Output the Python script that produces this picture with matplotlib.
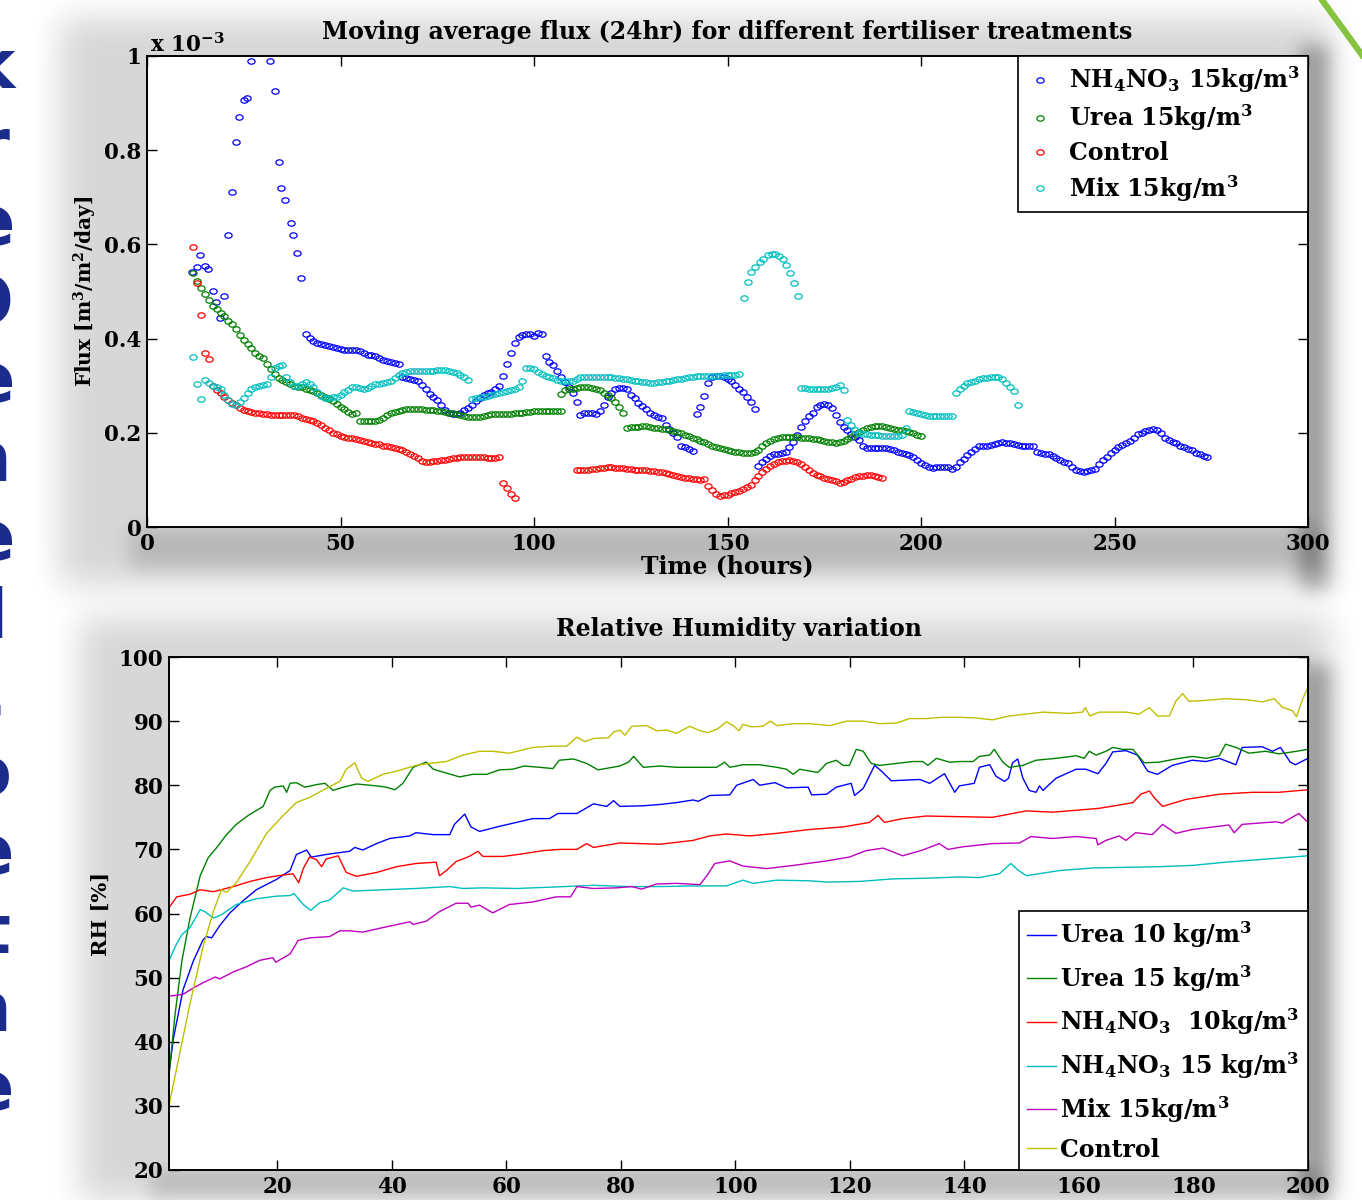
import numpy as np
import matplotlib
matplotlib.use('Agg')
import matplotlib.pyplot as plt
from matplotlib.path import Path
from matplotlib.transforms import Affine2D
from matplotlib.lines import Line2D

plt.rcParams['font.family'] = 'DejaVu Serif'
plt.rcParams['font.weight'] = 'bold'
plt.rcParams['mathtext.fontset'] = 'custom'
plt.rcParams['mathtext.rm'] = 'DejaVu Serif:bold'
plt.rcParams['mathtext.it'] = 'DejaVu Serif:bold'
plt.rcParams['mathtext.bf'] = 'DejaVu Serif:bold'
plt.rcParams['mathtext.default'] = 'rm'

# ---------------- flux data (x 1e-3 m3/m2/day) vs time (hours) ----------------
# NH4NO3 15kg/m3
nh4_pts_t = [11.5, 13.0, 13.8, 14.9, 15.8, 17.0, 17.9, 18.9, 19.9, 21.0, 21.9, 23.1, 23.8,
             25.1, 25.8, 26.9, 31.9, 33.0, 34.0, 34.7, 35.7, 37.2, 37.8, 38.8, 39.8]
nh4_pts_f = [0.542, 0.553, 0.578, 0.554, 0.548, 0.502, 0.478, 0.444, 0.491, 0.621, 0.712, 0.818, 0.871,
             0.906, 0.911, 0.990, 0.989, 0.926, 0.774, 0.720, 0.695, 0.645, 0.620, 0.582, 0.529]
nh4_seg_start = [41, 66, 103, 142, 158]
nh4_seg_f = [
    [0.410, 0.401, 0.395, 0.391, 0.389, 0.387, 0.385, 0.383, 0.380, 0.377, 0.376, 0.376, 0.376,
     0.376, 0.374, 0.369, 0.366, 0.365, 0.362, 0.358, 0.355, 0.352, 0.350, 0.348, 0.346],
    [0.318, 0.316, 0.315, 0.313, 0.309, 0.301, 0.293, 0.283, 0.275, 0.270, 0.260, 0.249, 0.242,
     0.240, 0.239, 0.242, 0.248, 0.252, 0.258, 0.267, 0.273, 0.280, 0.285, 0.287, 0.292, 0.300,
     0.320, 0.347, 0.370, 0.390, 0.403, 0.408, 0.409, 0.409, 0.405, 0.411, 0.410],
    [0.362, 0.351, 0.344, 0.332, 0.318, 0.308, 0.297, 0.284, 0.266, 0.238, 0.242, 0.243, 0.241,
     0.240, 0.247, 0.259, 0.275, 0.285, 0.292, 0.296, 0.296, 0.293, 0.281, 0.273, 0.264, 0.256,
     0.250, 0.242, 0.237, 0.234, 0.231, 0.217, 0.208, 0.199, 0.192, 0.173, 0.170, 0.166, 0.161],
    [0.240, 0.254, 0.278, 0.305, 0.318, 0.320, 0.320, 0.319, 0.315, 0.310, 0.302, 0.293, 0.287,
     0.277, 0.265, 0.250],
    [0.130, 0.138, 0.144, 0.150, 0.154, 0.156, 0.157, 0.160, 0.170, 0.181, 0.195, 0.212, 0.225,
     0.235, 0.243, 0.254, 0.259, 0.261, 0.259, 0.252, 0.238, 0.222, 0.213, 0.205, 0.197, 0.191,
     0.184, 0.172, 0.168, 0.167, 0.167, 0.167, 0.167, 0.167, 0.166, 0.164, 0.160, 0.158, 0.156,
     0.153, 0.149, 0.143, 0.136, 0.131, 0.128, 0.126, 0.127, 0.128, 0.128, 0.127, 0.123, 0.128,
     0.137, 0.145, 0.152, 0.160, 0.166, 0.171, 0.173, 0.173, 0.174, 0.176, 0.178, 0.180, 0.179,
     0.178, 0.176, 0.174, 0.173, 0.173, 0.173, 0.172, 0.160, 0.158, 0.156, 0.154, 0.151, 0.147,
     0.143, 0.139, 0.135, 0.128, 0.122, 0.119, 0.117, 0.118, 0.120, 0.123, 0.134, 0.143, 0.149,
     0.157, 0.163, 0.170, 0.175, 0.179, 0.182, 0.190, 0.197, 0.200, 0.203, 0.206, 0.208, 0.207,
     0.200, 0.190, 0.184, 0.181, 0.178, 0.173, 0.169, 0.166, 0.163, 0.158, 0.154, 0.150, 0.148],
]

# Urea 15kg/m3
urea_seg_start = [12, 55, 107, 124]
urea_seg_f = [
    [0.540, 0.522, 0.508, 0.495, 0.482, 0.469, 0.462, 0.455, 0.448, 0.438, 0.431, 0.420, 0.408,
     0.398, 0.388, 0.379, 0.370, 0.362, 0.358, 0.346, 0.336, 0.325, 0.316, 0.312, 0.307, 0.303,
     0.300, 0.298, 0.297, 0.294, 0.291, 0.289, 0.285, 0.281, 0.277, 0.272, 0.268, 0.262, 0.255,
     0.250, 0.245, 0.240, 0.243],
    [0.225, 0.224, 0.224, 0.224, 0.225, 0.227, 0.232, 0.237, 0.241, 0.244, 0.246, 0.248, 0.250,
     0.250, 0.250, 0.250, 0.250, 0.249, 0.249, 0.248, 0.247, 0.246, 0.245, 0.243, 0.241, 0.239,
     0.237, 0.235, 0.234, 0.233, 0.233, 0.234, 0.235, 0.237, 0.239, 0.240, 0.240, 0.239, 0.239,
     0.240, 0.241, 0.242, 0.243, 0.244, 0.245, 0.246, 0.246, 0.246, 0.246, 0.246, 0.246, 0.246,
     0.247],
    [0.283, 0.290, 0.292, 0.294, 0.296, 0.298, 0.298, 0.297, 0.296, 0.294, 0.291, 0.285, 0.280,
     0.273, 0.265, 0.255, 0.243],
    [0.211, 0.212, 0.212, 0.213, 0.214, 0.214, 0.213, 0.211, 0.210, 0.209, 0.208, 0.206, 0.204,
     0.201, 0.199, 0.196, 0.193, 0.190, 0.186, 0.183, 0.180, 0.176, 0.173, 0.170, 0.167, 0.165,
     0.163, 0.161, 0.160, 0.159, 0.158, 0.158, 0.158, 0.160, 0.164, 0.171, 0.178, 0.183, 0.187,
     0.190, 0.191, 0.192, 0.192, 0.192, 0.191, 0.190, 0.189, 0.188, 0.187, 0.186, 0.185, 0.183,
     0.181, 0.180, 0.179, 0.180, 0.182, 0.186, 0.191, 0.197, 0.202, 0.206, 0.210, 0.213, 0.215,
     0.215, 0.214, 0.212, 0.210, 0.208, 0.206, 0.205, 0.203, 0.201, 0.199, 0.196, 0.193],
]

# Control
ctrl_pts_t = [11.8, 13.0, 14.0, 15.0, 16.0]
ctrl_pts_f = [0.594, 0.517, 0.450, 0.370, 0.357]
ctrl_seg_start = [17, 92, 111, 145]
ctrl_seg_f = [
    [0.299, 0.291, 0.284, 0.276, 0.270, 0.264, 0.258, 0.253, 0.248, 0.246, 0.244, 0.242, 0.241,
     0.240, 0.239, 0.238, 0.238, 0.238, 0.238, 0.238, 0.238, 0.237, 0.235, 0.232, 0.230, 0.227,
     0.224, 0.220, 0.216, 0.211, 0.205, 0.200, 0.197, 0.194, 0.192, 0.190, 0.188, 0.186, 0.185,
     0.182, 0.180, 0.178, 0.177, 0.176, 0.173, 0.171, 0.169, 0.167, 0.166, 0.163, 0.159, 0.156,
     0.151, 0.146, 0.141, 0.139, 0.139, 0.140, 0.141, 0.142, 0.143, 0.144, 0.146, 0.147, 0.148,
     0.149, 0.149, 0.148, 0.148, 0.148, 0.148, 0.147, 0.147, 0.147, 0.149],
    [0.094, 0.082, 0.071, 0.062],
    [0.120, 0.121, 0.122, 0.122, 0.123, 0.124, 0.125, 0.126, 0.127, 0.127, 0.126, 0.125, 0.125,
     0.124, 0.123, 0.122, 0.121, 0.121, 0.120, 0.119, 0.118, 0.117, 0.116, 0.114, 0.112, 0.111,
     0.109, 0.107, 0.105, 0.103, 0.102, 0.101, 0.100, 0.101],
    [0.086, 0.078, 0.070, 0.066, 0.067, 0.069, 0.072, 0.074, 0.077, 0.080, 0.084, 0.089, 0.099,
     0.108, 0.116, 0.124, 0.130, 0.134, 0.138, 0.140, 0.141, 0.142, 0.141, 0.139, 0.134, 0.128,
     0.121, 0.115, 0.111, 0.108, 0.105, 0.102, 0.100, 0.097, 0.094, 0.096, 0.099, 0.102, 0.106,
     0.108, 0.109, 0.110, 0.110, 0.108, 0.107, 0.105],
]

# Mix 15kg/m3
mix_pts_t = [11.8, 13.0, 14.0, 154.3, 155.2, 156.2, 157.2, 158.3, 159.3, 160.5, 161.4, 162.3,
             163.3, 164.3, 165.1, 166.1, 167.2, 168.1]
mix_pts_f = [0.360, 0.304, 0.271, 0.487, 0.521, 0.542, 0.553, 0.563, 0.570, 0.577, 0.580, 0.579,
             0.575, 0.568, 0.556, 0.540, 0.517, 0.490]
mix_seg_start = [15, 84, 98, 169, 181, 197, 209]
mix_seg_f = [
    [0.313, 0.305, 0.300, 0.297, 0.294, 0.280, 0.269, 0.262, 0.260, 0.265, 0.273, 0.284, 0.294,
     0.298, 0.300, 0.301, 0.304, 0.318, 0.338, 0.342, 0.344, 0.318, 0.307, 0.300, 0.300, 0.304,
     0.308, 0.303, 0.297, 0.287, 0.278, 0.274, 0.273, 0.275, 0.277, 0.281, 0.286, 0.291, 0.297,
     0.298, 0.295, 0.292, 0.296, 0.300, 0.303, 0.304, 0.305, 0.307, 0.310, 0.316, 0.322, 0.327,
     0.330, 0.331, 0.332, 0.332, 0.332, 0.332, 0.332, 0.332, 0.333, 0.333, 0.333, 0.332, 0.330,
     0.327, 0.323, 0.318, 0.313],
    [0.272, 0.273, 0.275, 0.277, 0.278, 0.280, 0.282, 0.284, 0.287, 0.289, 0.290, 0.293, 0.298,
     0.310],
    [0.337, 0.337, 0.335, 0.330, 0.324, 0.320, 0.318, 0.316, 0.313, 0.311, 0.310, 0.310, 0.310,
     0.314, 0.318, 0.319, 0.319, 0.319, 0.319, 0.319, 0.319, 0.318, 0.318, 0.317, 0.316, 0.315,
     0.314, 0.312, 0.311, 0.309, 0.308, 0.307, 0.305, 0.306, 0.307, 0.308, 0.309, 0.311, 0.312,
     0.314, 0.315, 0.317, 0.318, 0.319, 0.320, 0.320, 0.321, 0.321, 0.321, 0.321, 0.321, 0.322,
     0.322, 0.323, 0.323, 0.325],
    [0.296, 0.295, 0.294, 0.294, 0.294, 0.294, 0.294, 0.294, 0.295, 0.298, 0.301, 0.291],
    [0.227, 0.216, 0.206, 0.200, 0.198, 0.197, 0.196, 0.196, 0.195, 0.194, 0.193, 0.193, 0.193,
     0.193, 0.196, 0.210],
    [0.247, 0.244, 0.241, 0.239, 0.237, 0.236, 0.236, 0.236, 0.236, 0.236, 0.236, 0.236],
    [0.284, 0.292, 0.299, 0.305, 0.308, 0.311, 0.314, 0.316, 0.317, 0.318, 0.319, 0.319, 0.314,
     0.305, 0.298, 0.289, 0.258],
]

flux_labels = [r'NH$_4$NO$_3$ 15kg/m$^3$', r'Urea 15kg/m$^3$', 'Control', r'Mix 15kg/m$^3$']
flux_colors = ['#0000ff', '#008000', '#ff0000', '#00bfbf']

# ---------------- relative humidity data (%) vs time (hours) ----------------
u10_t = [1.05, 1.8, 3.5, 5.3, 7.0, 7.6, 8.5, 9.9, 11.7, 14.0, 16.3, 18.7, 19.8, 22.2, 23.3, 25.1,
         25.9, 28.5, 30.9, 32.6, 33.5, 34.9, 37.3, 39.6, 43.1, 44.2, 47.2, 50.1, 50.9, 52.7, 53.8,
         55.3, 58.8, 61.7, 64.6, 67.5, 69.0, 72.3, 75.2, 77.5, 78.7, 79.8, 83.9, 86.8, 89.7, 92.6,
         93.5, 95.5, 99.0, 100.2, 103.1, 104.2, 106.9, 108.9, 112.7, 113.3, 115.9, 117.6, 120.2,
         120.8, 122.3, 124.3, 125.5, 127.2, 132.2, 133.9, 136.5, 138.3, 139.1, 141.7, 142.6, 144.4,
         145.5, 147.0, 147.7, 148.4, 149.3, 150.2, 151.3, 152.5, 153.1, 153.7, 156.0, 159.5, 161.2,
         163.3, 164.7, 165.9, 168.2, 170.2, 172.0, 173.7, 176.3, 179.8, 182.2, 184.5, 187.4, 188.5,
         192.0, 193.8, 195.2, 196.9, 197.8, 200.0]
u10_rh = [35.1, 40.4, 48.1, 52.6, 55.9, 56.4, 56.2, 58.1, 60.1, 62.0, 63.7, 64.8, 65.3, 66.7, 69.2,
          69.9, 68.8, 69.2, 69.5, 69.7, 70.3, 69.9, 70.9, 71.7, 72.1, 72.6, 72.3, 72.3, 73.9, 75.5,
          73.5, 72.8, 73.6, 74.2, 74.8, 74.8, 75.6, 75.6, 77.1, 76.7, 77.6, 76.7, 76.8, 77.0, 77.3,
          77.7, 77.5, 78.4, 78.5, 80.0, 80.9, 80.0, 80.4, 79.6, 79.7, 78.5, 78.6, 79.7, 80.3, 78.4,
          79.5, 83.1, 82.2, 80.7, 80.9, 80.3, 81.8, 78.9, 79.9, 80.3, 82.8, 83.2, 81.4, 80.6, 81.1,
          83.5, 84.1, 81.1, 79.2, 78.9, 79.9, 79.2, 81.1, 82.5, 82.5, 81.8, 83.4, 85.2, 85.4, 84.7,
          82.2, 81.7, 83.1, 83.9, 83.7, 84.2, 83.2, 85.9, 86.0, 85.3, 85.9, 83.6, 83.2, 84.2]

u15_t = [1.05, 2.1, 3.3, 4.7, 6.5, 7.9, 9.4, 11.1, 12.8, 14.9, 17.5, 18.7, 19.5, 21.0, 21.6, 22.2,
         23.3, 24.8, 26.8, 28.3, 29.7, 31.5, 33.8, 37.3, 39.0, 40.5, 41.9, 43.7, 46.0, 47.2, 49.5,
         51.8, 54.1, 56.5, 58.8, 61.1, 63.1, 65.8, 68.1, 69.2, 71.7, 74.0, 76.0, 79.8, 81.3, 82.2,
         83.9, 86.8, 89.7, 93.8, 96.7, 98.1, 99.0, 101.3, 104.2, 107.2, 108.9, 110.1, 111.2, 113.0,
         114.4, 115.9, 117.6, 118.8, 119.9, 121.1, 122.3, 123.7, 125.2, 128.1, 131.0, 132.7, 133.6,
         135.1, 137.4, 139.1, 141.5, 142.6, 144.4, 145.2, 146.7, 147.8, 150.2, 152.5, 156.0, 159.5,
         160.9, 161.8, 163.0, 164.7, 165.9, 167.6, 169.4, 171.4, 174.0, 176.9, 179.8, 182.2, 184.5,
         185.6, 187.4, 189.7, 192.6, 194.9, 197.3, 200.0]
u15_rh = [34.8, 44.2, 52.6, 59.2, 65.9, 68.7, 70.3, 72.3, 73.9, 75.3, 76.7, 79.2, 79.7, 79.9, 78.9,
          80.3, 80.4, 79.7, 80.1, 80.3, 79.2, 79.7, 80.2, 79.9, 79.7, 79.3, 80.3, 82.8, 83.6, 82.5,
          81.9, 81.3, 81.7, 81.7, 82.4, 82.5, 83.0, 82.8, 82.6, 83.9, 84.1, 83.4, 82.4, 83.0, 83.6,
          84.5, 82.8, 83.0, 82.8, 82.8, 82.8, 83.6, 82.8, 83.2, 83.2, 82.8, 82.5, 81.7, 82.5, 82.2,
          82.0, 83.4, 83.9, 83.1, 83.1, 85.6, 85.3, 83.4, 83.1, 83.4, 83.7, 83.7, 83.1, 84.2, 83.6,
          83.7, 83.7, 84.5, 84.7, 85.6, 83.6, 82.8, 83.1, 83.9, 84.2, 84.6, 84.2, 85.3, 84.7, 85.3,
          85.9, 85.6, 85.6, 83.5, 83.6, 84.1, 84.5, 84.2, 84.6, 86.4, 85.9, 85.0, 85.3, 84.9, 85.2,
          85.6]

n10_t = [1.05, 2.4, 4.7, 6.5, 8.8, 12.3, 15.2, 18.1, 21.0, 22.7, 23.7, 24.5, 25.6, 26.8, 27.7,
         28.5, 30.6, 32.0, 33.8, 37.3, 40.8, 44.2, 47.7, 48.3, 49.5, 51.2, 53.5, 55.0, 55.9, 59.4,
         62.8, 66.3, 69.4, 72.3, 74.0, 75.2, 79.8, 86.8, 92.6, 95.5, 98.4, 102.5, 107.2, 113.0,
         118.8, 123.4, 124.9, 126.0, 129.2, 133.3, 139.1, 144.9, 150.8, 155.4, 159.5, 163.5, 167.6,
         169.4, 170.8, 172.3, 173.1, 174.6, 178.7, 184.5, 190.3, 194.9, 200.0]
n10_rh = [60.9, 62.6, 63.0, 63.7, 63.4, 64.2, 65.0, 65.6, 66.0, 66.2, 64.8, 67.0, 68.8, 68.4, 67.3,
          68.5, 69.0, 66.4, 65.8, 66.4, 67.3, 67.8, 68.0, 65.9, 66.7, 68.1, 68.9, 69.7, 68.9, 68.9,
          69.3, 69.8, 70.0, 70.0, 70.9, 70.3, 71.0, 70.8, 71.4, 72.1, 72.4, 72.1, 72.5, 73.1, 73.5,
          74.2, 75.3, 74.2, 74.8, 75.2, 75.1, 75.0, 76.0, 75.8, 76.1, 76.4, 77.0, 77.3, 78.6, 79.1,
          78.1, 76.7, 77.8, 78.6, 78.9, 78.9, 79.3]

n15_t = [1.05, 2.1, 3.3, 4.7, 6.5, 7.3, 8.8, 10.2, 12.8, 16.3, 19.8, 22.2, 22.9, 24.5, 25.8, 27.4,
         29.1, 31.5, 33.2, 38.4, 44.2, 50.1, 52.4, 55.9, 61.7, 67.5, 75.2, 81.0, 86.8, 92.6, 98.4,
         101.3, 103.1, 107.2, 113.0, 115.9, 121.7, 127.5, 133.3, 139.1, 142.6, 146.1, 148.1, 149.3,
         150.8, 156.6, 162.4, 174.0, 179.8, 185.6, 191.5, 200.0]
n15_rh = [52.6, 54.8, 56.7, 57.8, 60.6, 60.3, 59.3, 59.8, 61.4, 62.3, 62.7, 62.8, 63.1, 61.4, 60.5,
          61.7, 62.1, 64.0, 63.5, 63.7, 63.9, 64.2, 63.9, 64.0, 63.9, 64.1, 64.4, 64.2, 64.2, 64.3,
          64.3, 65.2, 64.7, 65.2, 65.1, 64.9, 65.0, 65.4, 65.5, 65.7, 65.6, 66.2, 67.8, 66.8, 65.9,
          66.7, 67.1, 67.3, 67.5, 68.0, 68.4, 69.0]

mix_rh_t = [1.05, 3.5, 5.3, 7.0, 9.1, 9.9, 12.3, 14.6, 16.9, 19.2, 19.7, 22.2, 23.6, 25.6, 29.1,
            30.9, 32.6, 34.9, 38.4, 43.1, 43.7, 46.0, 48.3, 51.2, 53.3, 53.8, 55.3, 57.6, 60.5,
            64.6, 68.7, 71.2, 72.3, 75.2, 79.2, 81.9, 83.6, 86.2, 89.7, 93.8, 95.0, 96.4, 99.0,
            101.3, 105.4, 110.1, 115.9, 119.9, 122.8, 125.8, 129.2, 132.7, 135.6, 137.1, 139.7,
            144.9, 149.6, 151.6, 155.4, 159.5, 163.0, 163.3, 164.7, 167.0, 168.2, 169.9, 172.8,
            174.6, 176.9, 179.8, 186.2, 187.1, 188.5, 194.4, 195.5, 198.4, 200.0]
mix_rh = [47.1, 47.4, 48.4, 49.2, 50.1, 49.8, 50.9, 51.7, 52.7, 53.1, 52.4, 53.7, 55.8, 56.2, 56.4,
          57.3, 57.3, 57.1, 57.8, 58.7, 58.3, 58.8, 60.3, 61.6, 61.6, 61.0, 61.3, 60.1, 61.4, 61.8,
          62.6, 62.6, 64.2, 63.9, 64.0, 64.2, 63.8, 64.6, 64.7, 64.5, 65.9, 67.8, 68.2, 67.4, 67.0,
          67.5, 68.2, 68.8, 69.8, 70.2, 69.0, 69.9, 70.9, 70.0, 70.4, 70.9, 71.0, 72.0, 71.7, 72.0,
          71.7, 70.7, 71.4, 72.1, 71.4, 72.6, 72.3, 73.9, 72.5, 73.1, 73.8, 72.6, 73.9, 74.3, 74.1,
          75.6, 74.2]

ctrl_rh_t = [1.05, 2.4, 4.7, 7.0, 8.8, 10.2, 11.1, 12.8, 15.2, 18.1, 21.0, 23.3, 25.6, 28.5, 30.9,
             32.0, 33.5, 34.7, 35.8, 38.4, 40.8, 44.2, 46.5, 49.5, 52.4, 55.3, 57.6, 60.5, 64.6,
             68.1, 70.5, 72.3, 73.7, 75.2, 77.8, 78.7, 79.8, 80.7, 81.9, 84.5, 86.2, 88.0, 89.7,
             92.0, 93.8, 95.2, 96.9, 98.4, 99.6, 100.6, 101.3, 102.8, 104.8, 106.1, 107.2, 110.1,
             113.0, 116.5, 119.4, 122.3, 125.2, 128.1, 130.4, 133.3, 136.2, 139.1, 142.0, 144.9,
             147.8, 153.7, 158.3, 160.6, 161.1, 161.9, 163.5, 168.2, 170.5, 172.3, 173.7, 175.8,
             176.9, 178.1, 179.2, 181.6, 185.6, 189.7, 192.0, 194.1, 195.5, 197.3, 198.0, 199.0,
             200.0]
ctrl_rh = [30.1, 35.9, 45.9, 54.8, 60.3, 63.7, 63.3, 64.8, 68.1, 72.5, 75.3, 77.3, 78.1, 79.5, 80.6,
           82.5, 83.5, 81.1, 80.6, 81.7, 82.2, 83.1, 83.4, 83.7, 84.7, 85.3, 85.3, 85.0, 85.9, 86.1,
           86.1, 87.5, 86.8, 87.3, 87.4, 88.3, 88.6, 87.8, 89.2, 89.3, 88.5, 88.6, 88.1, 89.2, 88.5,
           88.2, 88.8, 89.9, 89.3, 88.5, 89.5, 89.1, 89.2, 90.0, 89.3, 89.6, 89.6, 89.3, 90.0, 90.0,
           89.6, 89.7, 90.4, 90.4, 90.6, 90.6, 90.5, 90.2, 90.8, 91.4, 91.2, 91.4, 92.1, 90.8, 91.4,
           91.4, 91.1, 92.1, 90.8, 90.8, 93.1, 94.3, 93.1, 93.2, 93.5, 93.3, 93.0, 93.5, 92.2, 91.6,
           90.7, 93.3, 95.3]

rh_labels = [r'Urea 10 kg/m$^3$', r'Urea 15 kg/m$^3$', r'NH$_4$NO$_3$  10kg/m$^3$',
             r'NH$_4$NO$_3$ 15 kg/m$^3$', r'Mix 15kg/m$^3$', 'Control']
rh_colors = ['#0000ff', '#008000', '#ff0000', '#00bfbf', '#bf00bf', '#bfbf00']

# poster text cut off at the left border (only the right edges show)
side_letters = ['k', 'r', 'e', 'O', 'e', 'n', 'e', 'l', ',', 'o', 'e', 't', 'n', 'e']
side_right_px = [15, 9, 14, 13, 14, 11, 14, 7, 7, 11, 13, 10, 11, 13]


def join(start_list, seg_list, pts_t=(), pts_f=()):
    t = list(pts_t)
    f = list(pts_f)
    for s, seg in zip(start_list, seg_list):
        t += list(np.arange(s, s + len(seg)))
        f += list(seg)
    return np.array(t), np.array(f)


W, H = 1362, 1200
fig = plt.figure(figsize=(W / 100, H / 100), dpi=100)

# soft drop shadows behind the two panels
def blurred_box(x0, y0, x1, y1, sigma):
    m = np.zeros((H, W))
    m[y0:y1, x0:x1] = 1.0
    r = int(3 * sigma)
    k = np.exp(-0.5 * (np.arange(-r, r + 1) / sigma) ** 2)
    k /= k.sum()
    m = np.apply_along_axis(lambda v: np.convolve(v, k, mode='same'), 0, m)
    m = np.apply_along_axis(lambda v: np.convolve(v, k, mode='same'), 1, m)
    return m

alpha = (0.16 * blurred_box(60, 18, 1330, 585, 16) + 0.26 * blurred_box(1300, 45, 1330, 590, 9)
         + 0.12 * blurred_box(130, 527, 1320, 570, 9)
         + 0.16 * blurred_box(80, 618, 1330, 1215, 16) + 0.26 * blurred_box(1300, 665, 1332, 1210, 9)
         + 0.12 * blurred_box(150, 1170, 1320, 1210, 8))
alpha = np.clip(alpha, 0, 0.5)
shadow = np.zeros((H, W, 4))
shadow[..., 3] = alpha
fig.figimage(shadow, 0, 0, origin='upper', zorder=-1)

for i, ch in enumerate(side_letters):
    base = 88 + 78.6 * i
    fig.text(side_right_px[i] / W, 1 - base / H, ch, ha='right', va='baseline',
             fontsize=48, family='DejaVu Sans', weight='bold', color='#1c2c8c')

fig.add_artist(Line2D([1322 / W, 1362 / W], [1.0, 1 - 55 / H], color='#86c440', lw=4.5,
                      transform=fig.transFigure))

# elliptical open marker (the picture is stretched horizontally)
uc = Path.unit_circle()
ell = Path(Affine2D().scale(1.35, 1.0).transform(uc.vertices), uc.codes)

# ---------------- top panel ----------------
ax1 = fig.add_axes([147 / W, 1 - 527 / H, 1161 / W, 471 / H])
series = [join(nh4_seg_start, nh4_seg_f, nh4_pts_t, nh4_pts_f),
          join(urea_seg_start, urea_seg_f),
          join(ctrl_seg_start, ctrl_seg_f, ctrl_pts_t, ctrl_pts_f),
          join(mix_seg_start, mix_seg_f, mix_pts_t, mix_pts_f)]
for (t, f), lab, c in zip(series, flux_labels, flux_colors):
    ax1.plot(t, f, linestyle='none', marker=ell, ms=5.2, mfc='none', mec=c, mew=0.9, label=lab)
ax1.set_xlim(0, 300)
ax1.set_ylim(0, 1)
ax1.set_xticks(range(0, 301, 50))
ax1.set_yticks([0, 0.2, 0.4, 0.6, 0.8, 1])
ax1.set_yticklabels(['0', '0.2', '0.4', '0.6', '0.8', '1'])
ax1.tick_params(direction='in', top=True, right=True, length=7, width=1, labelsize=15.5, pad=4)
for s in ax1.spines.values():
    s.set_linewidth(1.4)
ax1.set_title('Moving average flux (24hr) for different fertiliser treatments',
              fontsize=17, fontweight='bold', pad=12)
ax1.set_xlabel('Time (hours)', fontsize=17, fontweight='bold', labelpad=0)
ax1.set_ylabel(r'Flux [m$^3$/m$^2$/day]', fontsize=14.5, fontweight='bold', labelpad=4)
fig.text(150 / W, 1 - 52 / H, r'x 10$^{-3}$', fontsize=15.5, fontweight='bold', va='baseline')
leg1 = ax1.legend(loc='upper right', borderaxespad=0, fancybox=False, edgecolor='black',
                  framealpha=1, fontsize=17, handlelength=1.2, handletextpad=0.6,
                  labelspacing=0.33, borderpad=0.35)
leg1.get_frame().set_linewidth(1.2)

# ---------------- bottom panel ----------------
ax2 = fig.add_axes([169 / W, 1 - 1170 / H, 1139 / W, 513 / H])
rh_series = [(u10_t, u10_rh), (u15_t, u15_rh), (n10_t, n10_rh), (n15_t, n15_rh),
             (mix_rh_t, mix_rh), (ctrl_rh_t, ctrl_rh)]
for (t, v), lab, c in zip(rh_series, rh_labels, rh_colors):
    ax2.plot(t, v, color=c, lw=1.0, label=lab)
ax2.set_xlim(1.05, 200)
ax2.set_ylim(20, 100)
ax2.set_xticks(range(20, 201, 20))
ax2.set_yticks(range(20, 101, 10))
ax2.tick_params(direction='in', top=True, right=True, length=7, width=1, labelsize=15.5, pad=4)
for s in ax2.spines.values():
    s.set_linewidth(1.4)
ax2.set_title('Relative Humidity variation', fontsize=17, fontweight='bold', pad=15)
ax2.set_ylabel('RH [%]', fontsize=15, fontweight='bold', labelpad=6)
leg2 = ax2.legend(loc='lower right', borderaxespad=0, fancybox=False, edgecolor='black',
                  framealpha=1, fontsize=17, handlelength=1.2, handletextpad=0.2,
                  labelspacing=0.55, borderpad=0.35)
leg2.get_frame().set_linewidth(1.2)

fig.savefig('out.png', dpi=100)
